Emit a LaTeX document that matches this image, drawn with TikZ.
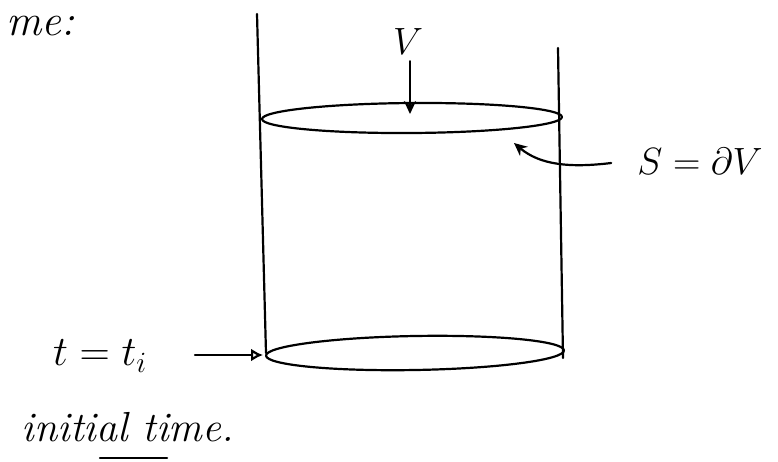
\RequirePackage{fix-cm}
\documentclass[tikz,border=0pt]{standalone}
\usetikzlibrary{arrows.meta}
\begin{document}
\begin{tikzpicture}[x=1pt,y=-1pt,
  pen/.style={line width=2.2pt,line cap=round,line join=round},
  lbl/.style={font=\fontsize{38}{42}\selectfont,inner sep=0pt}]
\useasboundingbox (0,0) rectangle (778,461);
% walls
\coordinate (lt) at (257,14);
\coordinate (lb) at (266,353);
\coordinate (rt) at (558,48);
\coordinate (rb) at (563,358);
\draw[pen] (lt) -- (lb);
\draw[pen] (rt) -- (rb);
% top and bottom discs
\draw[pen,rotate around={0.4:(412,118)}] (412,118) ellipse [x radius=150, y radius=15];
\draw[pen,rotate around={1:(415,353)}] (415,353) ellipse [x radius=149, y radius=17];
% labels
\node[lbl] (V) at (408,42) {$V$};
\coordinate (Vtip) at (410,114);
\draw[pen,-{Stealth[length=13pt,width=12pt]}] (V.south) ++(2,6) -- (Vtip);
\node[lbl] (S) at (700,161) {$S=\partial V$};
\coordinate (Stip) at (514,143);
\draw[pen,-{Stealth[length=13pt,width=12pt]}] (S.west) ++(-26,2) .. controls (570,168) and (540,165) .. (Stip);
\node[lbl,font=\fontsize{42}{46}\selectfont] (t) at (100,356) {$t=t_i$};
\coordinate (ttip) at (263,355);
\draw[pen,-{Latex[open,length=12pt,width=13pt]}] (195,355) -- (ttip);
\node[lbl,font=\fontsize{42}{46}\selectfont\itshape] (init) at (128,427) {initial time.};
\draw[pen,line width=2.5pt] (100,458) -- (167,458);
\node[lbl,font=\fontsize{44}{48}\selectfont\itshape,anchor=south west] (time) at (6,36) {me:};
\end{tikzpicture}
\end{document}
